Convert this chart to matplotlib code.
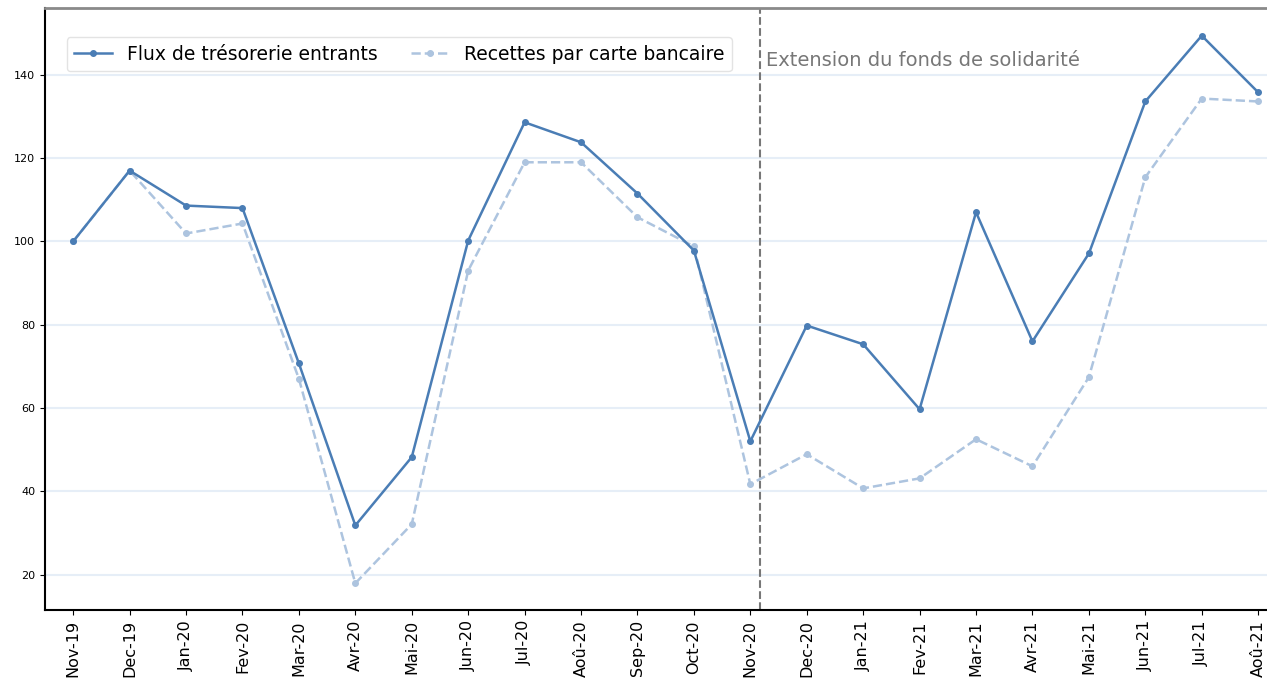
import matplotlib.pyplot as plt
import numpy as np

# months on the x axis
months = ['Nov-19', 'Dec-19', 'Jan-20', 'Fev-20', 'Mar-20', 'Avr-20', 'Mai-20',
          'Jun-20', 'Jul-20', 'Aoû-20', 'Sep-20', 'Oct-20', 'Nov-20', 'Dec-20',
          'Jan-21', 'Fev-21', 'Mar-21', 'Avr-21', 'Mai-21', 'Jun-21', 'Jul-21',
          'Aoû-21']

# index values, base 100 in Nov-19
flux = [100, 117, 108.6, 108, 70.7, 31.8, 48.2, 100.2, 128.6, 123.8, 111.5,
        97.8, 52, 79.8, 75.3, 59.7, 107, 76, 97.1, 133.6, 149.4, 135.8]
carte = [100, 117, 101.9, 104.3, 67, 17.9, 32.1, 93, 119, 119, 105.8,
         98.8, 41.7, 48.9, 40.7, 43.1, 52.5, 46, 67.4, 115.4, 134.3, 133.6]

event_pos = 12.17
event_label = 'Extension du fonds de solidarité'

fig = plt.figure(figsize=(12.67, 6.82), dpi=100)
ax = fig.add_axes([0.0355, 0.105, 0.97, 0.883])

x = np.arange(len(months))

ax.plot(x, flux, color='#4a7db5', linewidth=1.8, marker='o', markersize=4,
        label='Flux de trésorerie entrants', zorder=3)
ax.plot(x, carte, color='#adc4df', linewidth=1.8, linestyle='--', marker='o',
        markersize=4, label='Recettes par carte bancaire', zorder=2)

ax.axvline(event_pos, color='#777777', linestyle='--', linewidth=1.5)
ax.text(event_pos + 0.1, 143.4, event_label, color='#777777', fontsize=14,
        va='center', ha='left')

ax.set_xlim(-0.5, 21.28)
ax.set_ylim(11.4, 156)
ax.set_xticks(x)
ax.set_xticklabels(months, rotation=90, fontsize=11.5)
ax.set_yticks([20, 40, 60, 80, 100, 120, 140])
ax.tick_params(axis='y', labelsize=8)

ax.set_axisbelow(True)
ax.grid(axis='y', color='#e6eef7', linewidth=1.5)

ax.spines['right'].set_visible(False)
ax.spines['top'].set_color('#8a8a8a')
ax.spines['top'].set_linewidth(2)
ax.spines['left'].set_linewidth(1.5)
ax.spines['bottom'].set_linewidth(1.5)

ax.legend(loc='upper left', bbox_to_anchor=(0.01, 0.967), ncol=2,
          fontsize=13.5, frameon=True, edgecolor='#dddddd', columnspacing=1.8)

plt.savefig('out.png', dpi=100)
